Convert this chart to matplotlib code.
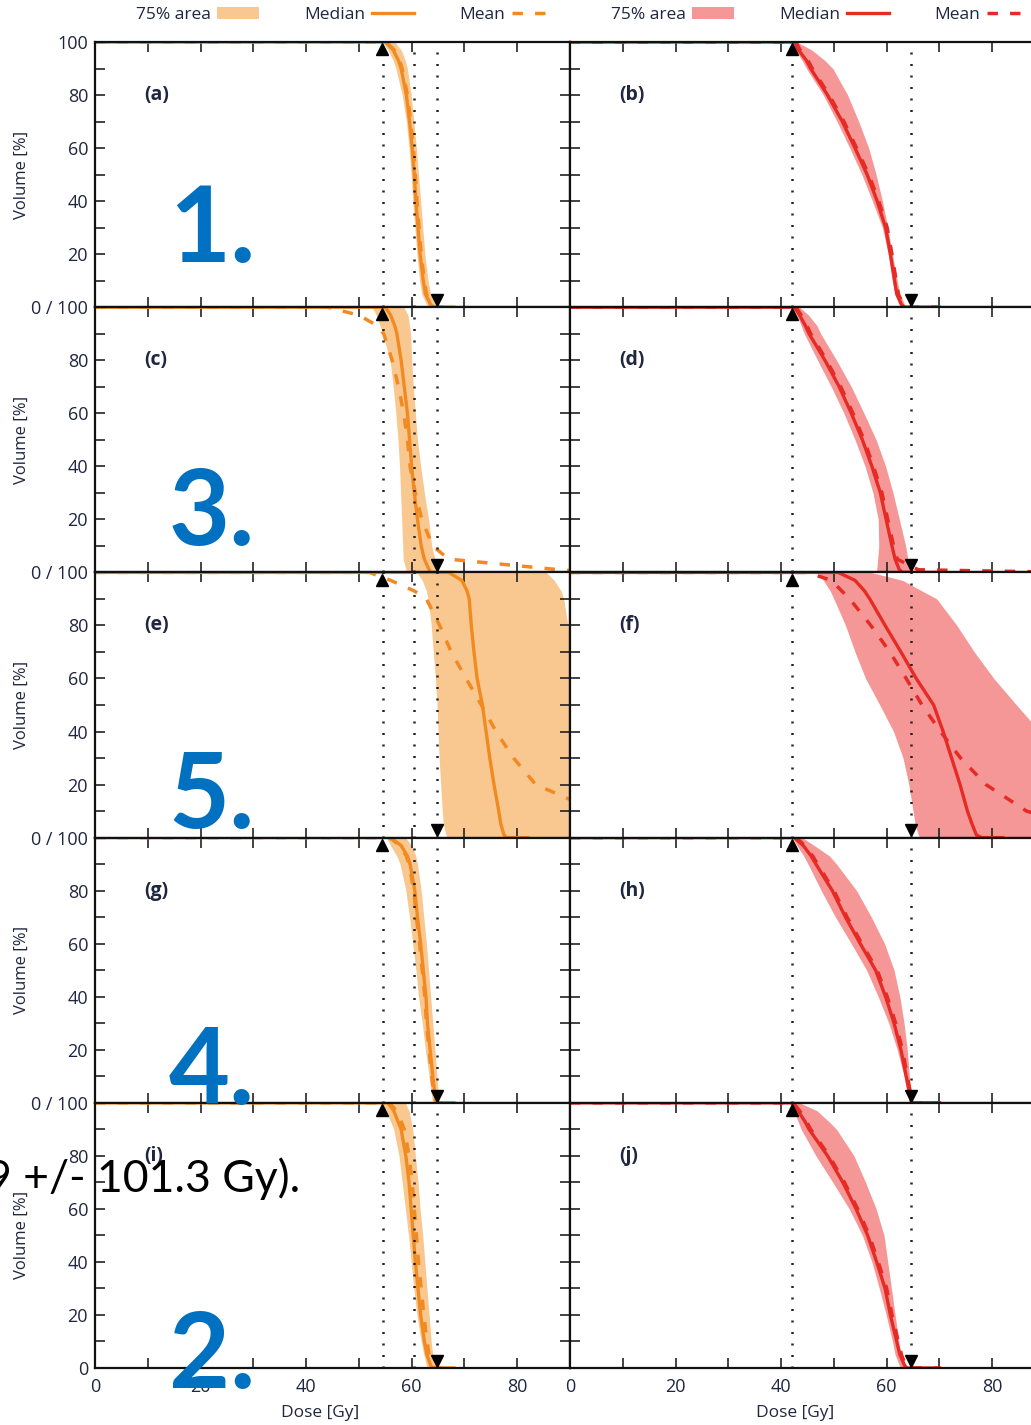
import matplotlib
matplotlib.use("Agg")
import matplotlib.pyplot as plt
from matplotlib.patches import Patch
from matplotlib.lines import Line2D

plt.rcParams['font.family'] = ['Open Sans', 'DejaVu Sans']

# volume grid for the lines: first point = flat part from 0 Gy, last point = tail on 0 %
VOL = [100, 100, 97, 93, 90, 80, 70, 60, 50, 40, 30, 20, 10, 5, 1, 0, 0]
# volume grid for the 75% bands
VOL_BAND = [100, 97, 93, 90, 80, 70, 60, 50, 40, 30, 20, 10, 5, 1, 0]

A_MED = [0, 55.0, 56.5, 57.5, 58.0, 59.0, 59.6, 60.1, 60.5, 60.8, 61.2, 61.6, 62.2, 62.6, 63.6, 64.2, 68]
A_MEAN = [0, 55.2, 56.7, 57.7, 58.2, 59.2, 59.8, 60.3, 60.7, 61.0, 61.4, 61.8, 62.4, 62.8, 63.8, 64.4, 68]
A_LO = [54.5, 55.5, 56.5, 57.0, 58.2, 59.0, 59.5, 59.9, 60.2, 60.6, 61.0, 61.5, 61.9, 62.8, 63.3]
A_HI = [56.8, 58.0, 58.8, 59.2, 59.9, 60.4, 60.9, 61.3, 61.7, 62.1, 62.5, 63.1, 63.6, 64.5, 65.0]

B_MED = [0, 42.5, 43.3, 44.8, 45.6, 48.8, 51.6, 54.0, 56.3, 58.2, 59.8, 60.7, 61.5, 61.9, 62.8, 63.3, 70]
B_MEAN = [0, 42.8, 43.6, 45.1, 45.9, 49.1, 51.9, 54.3, 56.6, 58.5, 60.1, 61.0, 61.8, 62.2, 63.1, 63.6, 70]
B_LO = [42.0, 42.7, 44.0, 44.8, 48.0, 50.6, 53.0, 55.3, 57.3, 59.2, 60.3, 61.1, 61.6, 62.4, 62.8]
B_HI = [43.0, 45.8, 48.3, 49.8, 52.6, 54.7, 56.6, 58.0, 59.2, 60.2, 61.1, 62.0, 62.5, 63.4, 63.9]

C_MED = [0, 55.0, 56.0, 56.8, 57.2, 58.0, 58.6, 59.2, 59.6, 60.0, 60.5, 61.1, 61.8, 62.4, 63.3, 63.6, 68]
C_MEAN = [0, 44.0, 50.0, 53.5, 54.7, 56.3, 57.5, 58.5, 59.2, 59.7, 60.7, 61.9, 64.0, 67.0, 88.0, 95.0, 95.0]
C_LO = [52.5, 53.3, 54.0, 54.5, 55.9, 56.5, 57.0, 57.4, 57.7, 57.9, 58.1, 58.3, 58.4, 58.9, 59.3]
C_HI = [58.5, 59.3, 59.6, 59.8, 60.0, 60.3, 60.7, 61.1, 61.7, 62.4, 63.2, 63.8, 64.4, 64.9, 65.0]

D_MED = [0, 42.5, 43.5, 44.6, 45.3, 48.3, 51.0, 53.3, 55.4, 57.2, 58.8, 59.9, 61.0, 61.6, 62.4, 63.0, 70]
D_MEAN = [0, 42.8, 43.8, 44.9, 45.6, 48.6, 51.3, 53.6, 55.7, 57.5, 59.1, 60.2, 61.3, 62.0, 66.0, 95.0, 95.0]
D_LO = [42.2, 43.0, 43.8, 44.4, 46.9, 49.5, 51.9, 54.0, 55.9, 57.4, 58.4, 58.5, 58.3, 58.1, 58.0]
D_HI = [43.5, 45.2, 46.8, 47.5, 50.5, 53.3, 55.7, 58.0, 59.8, 61.2, 62.4, 63.6, 64.0, 64.4, 64.6]

E_MED = [0, 67.0, 69.5, 70.5, 70.9, 71.3, 71.8, 72.4, 73.4, 74.1, 74.8, 75.6, 76.5, 76.9, 77.5, 78.0, 82]
E_MEAN = [0, 52.0, 56.0, 60.5, 62.8, 65.3, 67.5, 70.3, 73.2, 76.0, 79.3, 83.5, 95.0, 100.0, 110.0, 110.0, 110.0]
E_LO = [61.0, 62.0, 62.8, 63.1, 63.7, 64.1, 64.5, 64.8, 65.0, 65.2, 65.5, 65.8, 66.0, 66.5, 66.8]
E_HI = [85.5, 87.0, 88.3, 88.8, 89.6, 93.0, 93.0, 93.0, 93.0, 93.0, 93.0, 93.0, 93.0, 93.0, 93.0]

F_MED = [0, 50.8, 54.0, 55.8, 56.8, 59.7, 62.7, 65.6, 68.9, 70.7, 72.3, 73.9, 75.3, 76.2, 77.0, 78.0, 82]
F_MEAN = [0, 45.0, 49.5, 51.5, 53.0, 57.0, 60.6, 63.7, 66.7, 70.2, 74.0, 78.8, 86.5, 95.0, 100.0, 100.0, 100.0]
F_LO = [47.0, 48.0, 49.3, 50.0, 52.2, 54.0, 56.0, 58.7, 61.3, 63.1, 64.2, 65.0, 65.4, 66.0, 66.3]
F_HI = [57.0, 63.0, 66.7, 69.5, 73.3, 76.6, 80.3, 84.6, 89.0, 93.0, 95.0, 95.0, 95.0, 95.0, 95.0]

G_MED = [0, 56.0, 58.0, 59.2, 59.7, 60.6, 61.1, 61.7, 62.2, 62.7, 63.0, 63.5, 64.0, 64.3, 64.7, 65.0, 68]
G_MEAN = [0, 55.8, 57.8, 59.0, 59.5, 60.4, 60.9, 61.5, 62.0, 62.5, 62.8, 63.3, 63.8, 64.1, 64.5, 64.8, 68]
G_LO = [55.2, 56.0, 57.2, 57.8, 58.9, 59.6, 60.2, 60.8, 61.3, 62.0, 62.6, 63.3, 63.6, 63.9, 64.0]
G_HI = [58.8, 60.0, 60.8, 61.1, 61.8, 62.3, 62.8, 63.2, 63.6, 64.0, 64.4, 64.8, 65.0, 65.2, 65.3]

H_MED = [0, 42.5, 44.2, 45.7, 46.6, 49.7, 52.2, 55.0, 57.9, 59.8, 61.4, 62.7, 63.7, 64.2, 64.6, 64.8, 70]
H_MEAN = [0, 42.8, 44.5, 46.0, 46.9, 50.0, 52.5, 55.3, 58.2, 60.1, 61.7, 63.0, 63.9, 64.4, 64.7, 64.9, 70]
H_LO = [42.2, 43.0, 44.3, 45.1, 47.6, 50.3, 53.3, 56.2, 58.4, 60.4, 62.0, 63.3, 63.8, 64.2, 64.4]
H_HI = [44.0, 46.3, 49.2, 50.5, 54.3, 57.1, 59.6, 61.4, 62.5, 63.3, 63.9, 64.3, 64.5, 64.7, 64.9]

I_MED = [0, 55.5, 56.6, 57.4, 58.0, 58.9, 59.5, 59.9, 60.3, 60.7, 61.2, 61.7, 62.4, 62.9, 63.6, 64.0, 68]
I_MEAN = [0, 55.8, 57.1, 58.0, 58.6, 59.5, 60.1, 60.5, 60.9, 61.3, 61.8, 62.3, 62.9, 63.3, 63.9, 64.2, 68]
I_LO = [54.2, 55.0, 56.0, 56.6, 57.6, 58.2, 58.8, 59.4, 59.9, 60.4, 61.0, 61.8, 62.3, 62.8, 63.0]
I_HI = [58.8, 59.5, 59.9, 60.2, 60.7, 61.2, 61.6, 62.1, 62.5, 62.9, 63.3, 63.7, 64.0, 64.5, 64.7]

J_MED = [0, 42.0, 43.2, 44.5, 45.3, 48.8, 51.7, 54.2, 56.4, 58.1, 59.7, 60.7, 61.9, 62.5, 63.4, 63.8, 70]
J_MEAN = [0, 42.3, 43.5, 44.8, 45.6, 49.1, 52.0, 54.5, 56.7, 58.4, 60.0, 61.0, 62.2, 62.8, 63.6, 64.0, 70]
J_LO = [41.8, 42.4, 43.2, 43.8, 46.6, 49.8, 52.9, 55.4, 57.2, 58.6, 59.9, 61.1, 61.6, 62.4, 62.8]
J_HI = [43.5, 46.8, 49.0, 50.5, 53.8, 56.0, 58.0, 59.5, 60.2, 60.9, 61.6, 62.3, 62.7, 63.3, 63.6]

PANELS = [
    ('(a)', A_MED, A_MEAN, A_LO, A_HI), ('(b)', B_MED, B_MEAN, B_LO, B_HI),
    ('(c)', C_MED, C_MEAN, C_LO, C_HI), ('(d)', D_MED, D_MEAN, D_LO, D_HI),
    ('(e)', E_MED, E_MEAN, E_LO, E_HI), ('(f)', F_MED, F_MEAN, F_LO, F_HI),
    ('(g)', G_MED, G_MEAN, G_LO, G_HI), ('(h)', H_MED, H_MEAN, H_LO, H_HI),
    ('(i)', I_MED, I_MEAN, I_LO, I_HI), ('(j)', J_MED, J_MEAN, J_LO, J_HI),
]

# dotted reference doses (left column, right column)
REF_LEFT = [54.6, 60.5, 64.8]
REF_RIGHT = [42.1, 64.6]
ARROW_UP = [54.4, 42.1]
ARROW_DOWN = [64.8, 64.6]

LINE_COL = ['#f28a22', '#e62a24']
BAND_COL = ['#f9c890', '#f59797']
TXT = '#1f2640'

BIG_NUMS = ['1.', '3.', '5.', '4.', '2.']
BIG_BASE = [262, 545, 828, 1104, 1388]

W, H = 1031, 1425
fig = plt.figure(figsize=(W / 100, H / 100), dpi=100)

top = 42
rowh = 265.2
axes = []
for i, (lab, med, mean, lo, hi) in enumerate(PANELS):
    r, c = i // 2, i % 2
    x0 = 95 if c == 0 else 570
    ax = fig.add_axes([x0 / W, 1 - (top + rowh * (r + 1)) / H, 475 / W, rowh / H])
    axes.append(ax)
    ax.fill_betweenx(VOL_BAND, lo, hi, color=BAND_COL[c], lw=0, zorder=1)
    ax.plot(med, VOL, color=LINE_COL[c], lw=2.4, zorder=2)
    ax.plot(mean, VOL, color=LINE_COL[c], lw=2.5, ls=(0, (3, 3.5)), zorder=2)
    refs = REF_LEFT if c == 0 else REF_RIGHT
    for d in refs:
        ax.axvline(d, color='#222222', lw=1.8, ls=(0, (0.8, 3.8)), zorder=2.2)
    ax.plot([ARROW_UP[c]], [97.3], marker='^', ms=8, color='black', zorder=3)
    ax.plot([ARROW_DOWN[c]], [2.7], marker='v', ms=8, color='black', zorder=3)

    ax.set_xlim(0, 90)
    ax.set_ylim(0, 100)
    ax.set_xticks(range(0, 91, 10))
    ax.set_yticks(range(0, 101, 10))
    ax.tick_params(direction='in', length=7, width=1.2, top=True, bottom=True,
                   left=True, right=True, labelsize=13, labelcolor=TXT, color='#222222')
    ax.tick_params(axis='x', pad=7)
    ax.tick_params(axis='y', pad=5)
    for s in ax.spines.values():
        s.set_linewidth(1.6)
        s.set_color('#111111')

    if r == 4:
        ax.set_xticklabels([str(v) if v % 20 == 0 else '' for v in range(0, 91, 10)])
    else:
        ax.set_xticklabels([])
    if c == 0:
        ylabs = []
        for v in range(0, 101, 10):
            if v == 100:
                ylabs.append('100' if r == 0 else '0 / 100')
            elif v == 0:
                ylabs.append('0' if r == 4 else '')
            elif v % 20 == 0:
                ylabs.append(str(v))
            else:
                ylabs.append('')
        ax.set_yticklabels(ylabs)
        fig.text(22 / W, 1 - (top + rowh * (r + 0.5)) / H, 'Volume [%]', rotation=90,
                 ha='center', va='center', fontsize=12, color=TXT)
    else:
        ax.set_yticklabels([])

    ax.text(9.3, 80, lab, fontsize=14, fontweight='bold', color=TXT, ha='left', va='center')

# legends on top
for c in range(2):
    handles = [Patch(facecolor=BAND_COL[c], edgecolor='none'),
               Line2D([], [], color=LINE_COL[c], lw=2.4),
               Line2D([], [], color=LINE_COL[c], lw=2.5, ls=(0, (3, 3.5)))]
    axes[c].legend(handles, ['75% area', 'Median', 'Mean'], loc='lower center',
                   bbox_to_anchor=(0.525, 1.035), ncol=3, frameon=False, markerfirst=False,
                   fontsize=12.5, handlelength=2.4, handletextpad=0.4, columnspacing=2.6,
                   borderaxespad=0.15, labelcolor=TXT)

fig.text(320 / W, 1 - 1413 / H, 'Dose [Gy]', ha='center', va='center', fontsize=12.5, color=TXT)
fig.text(795 / W, 1 - 1413 / H, 'Dose [Gy]', ha='center', va='center', fontsize=12.5, color=TXT)

# overlaid annotations
for txt, base in zip(BIG_NUMS, BIG_BASE):
    fig.text(212 / W, 1 - base / H, txt, ha='center', va='baseline', fontsize=76,
             fontweight='bold', color='#0070c0', family=['Lato', 'DejaVu Sans'])
fig.text(-14 / W, 1 - 1192 / H, '9 +/- 101.3 Gy).', ha='left', va='baseline', fontsize=32,
         color='black', family=['Lato', 'DejaVu Sans'])

fig.savefig('out.png', dpi=100)
